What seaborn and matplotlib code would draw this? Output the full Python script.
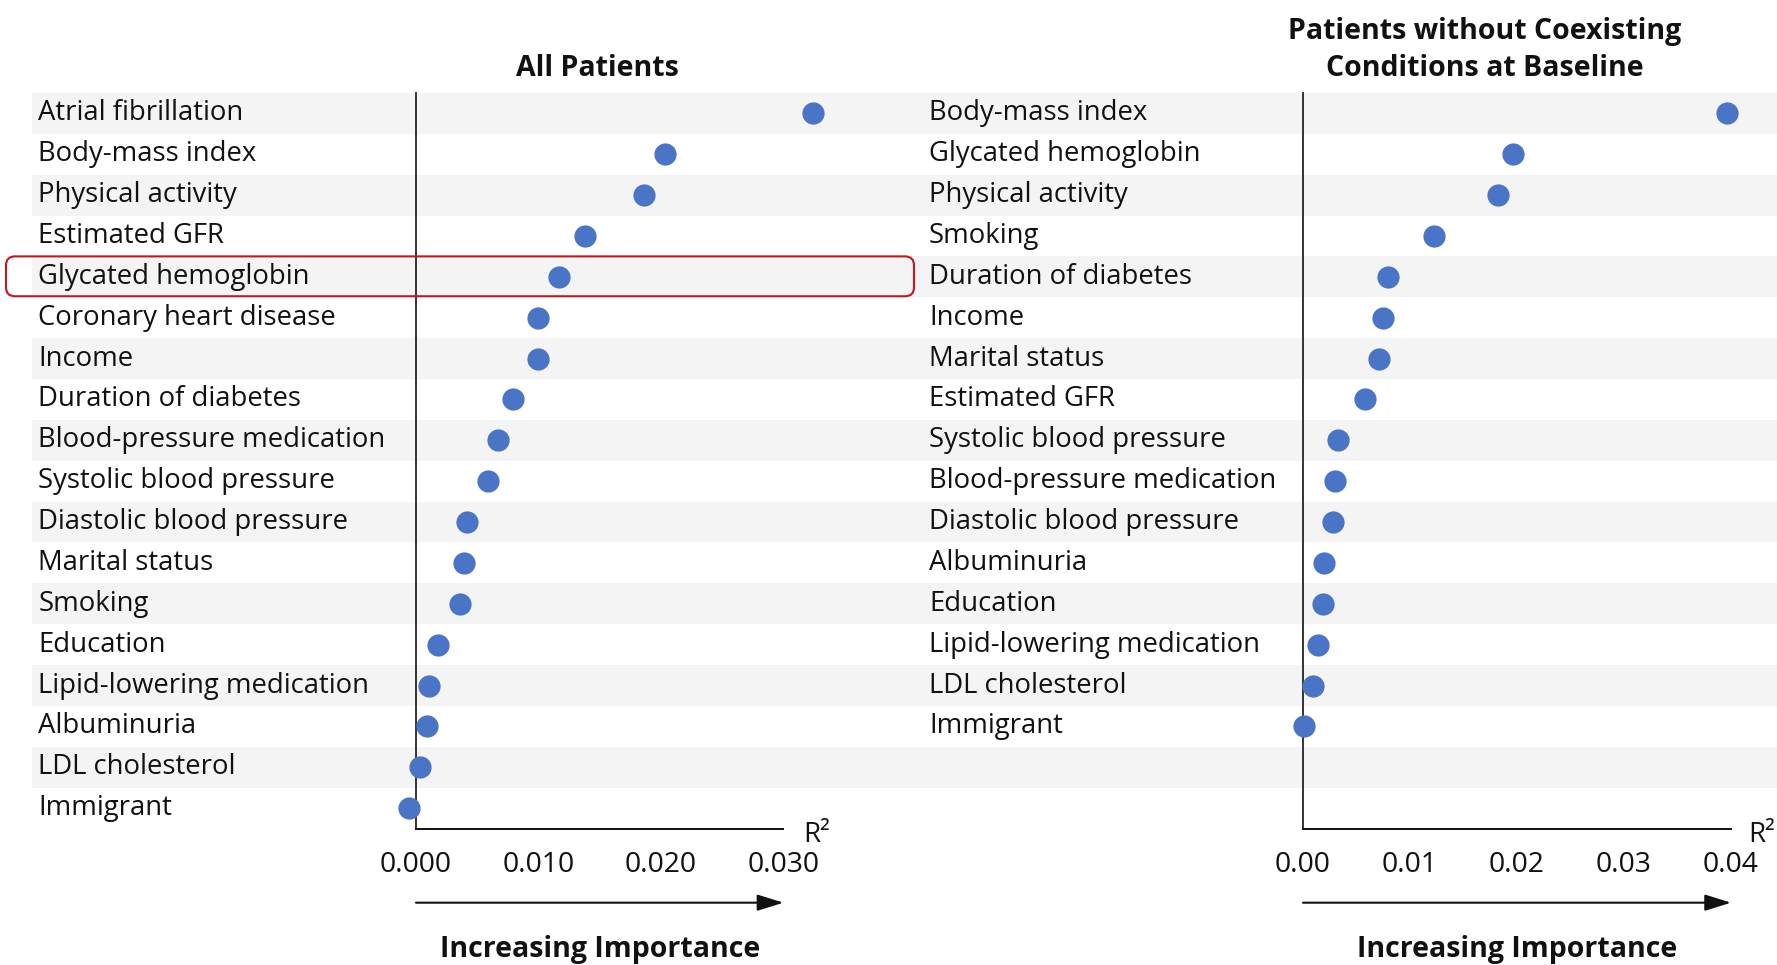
import matplotlib
matplotlib.use("Agg")
import matplotlib.pyplot as plt
import matplotlib.transforms as mtransforms
from matplotlib.patches import FancyBboxPatch
import pandas as pd
import seaborn as sns

# ---- data -------------------------------------------------------------
all_factors = [
    "Atrial fibrillation", "Body-mass index", "Physical activity",
    "Estimated GFR", "Glycated hemoglobin", "Coronary heart disease",
    "Income", "Duration of diabetes", "Blood-pressure medication",
    "Systolic blood pressure", "Diastolic blood pressure", "Marital status",
    "Smoking", "Education", "Lipid-lowering medication", "Albuminuria",
    "LDL cholesterol", "Immigrant",
]
all_r2 = [
    0.0324, 0.0203, 0.0186, 0.0138, 0.0117, 0.0100, 0.0100, 0.0079, 0.0067,
    0.0059, 0.0042, 0.0039, 0.0036, 0.0018, 0.0011, 0.0009, 0.0003, -0.0006,
]

healthy_factors = [
    "Body-mass index", "Glycated hemoglobin", "Physical activity", "Smoking",
    "Duration of diabetes", "Income", "Marital status", "Estimated GFR",
    "Systolic blood pressure", "Blood-pressure medication",
    "Diastolic blood pressure", "Albuminuria", "Education",
    "Lipid-lowering medication", "LDL cholesterol", "Immigrant",
]
healthy_r2 = [
    0.0396, 0.0196, 0.0182, 0.0122, 0.0079, 0.0075, 0.0071, 0.0058, 0.0033,
    0.0030, 0.0028, 0.0020, 0.0019, 0.0014, 0.0009, 0.0001,
]

left_ticks = [0.0, 0.01, 0.02, 0.03]
left_ticklabels = ["0.000", "0.010", "0.020", "0.030"]
right_ticks = [0.0, 0.01, 0.02, 0.03, 0.04]
right_ticklabels = ["0.00", "0.01", "0.02", "0.03", "0.04"]

left_title = "All Patients"
right_title = "Patients without Coexisting\nConditions at Baseline"
axis_caption = "Increasing Importance"
axis_unit = "R\u00b2"
highlight = "Glycated hemoglobin"

# ---- style ------------------------------------------------------------
sns.set_style("white")
plt.rcParams["font.family"] = ["Open Sans", "DejaVu Sans"]

DOT = "#4a74c6"
STRIPE = "#f4f4f4"
INK = "#111111"
AXLINE = "#333333"
RED = "#c4161c"

W, H = 1777, 965
fig = plt.figure(figsize=(W / 100, H / 100), dpi=100)
fig.patch.set_facecolor("white")


def rect(x0, y0, x1, y1):
    return [x0 / W, 1 - y1 / H, (x1 - x0) / W, (y1 - y0) / H]


n_rows = len(all_factors)
ax1 = fig.add_axes(rect(391.5, 92.9, 832.4, 828.6))
ax2 = fig.add_axes(rect(1281.6, 92.9, 1773.8, 828.6))

panels = [
    (ax1, all_factors, all_r2, (-0.002, 0.034), left_ticks, left_ticklabels,
     left_title, 0.468, 416 - 38.5),
    (ax2, healthy_factors, healthy_r2, (-0.002, 0.044), right_ticks,
     right_ticklabels, right_title, 0.413, 1303 - 929),
]

for ax, names, vals, xlim, ticks, ticklabels, title, title_x, label_px in panels:
    df = pd.DataFrame({"factor": names, "r2": vals})
    sns.stripplot(data=df, x="r2", y="factor", ax=ax, jitter=False,
                  size=16, color=DOT, linewidth=0, orient="h", zorder=4,
                  clip_on=False)
    ax.set_facecolor("none")
    ax.set_xlim(*xlim)
    ax.set_ylim(n_rows - 0.5, -0.5)
    ax.set_xlabel("")
    ax.set_ylabel("")
    ax.grid(False)

    for side in ("top", "right"):
        ax.spines[side].set_visible(False)
    ax.spines["left"].set_position(("data", 0))
    ax.spines["left"].set_color(AXLINE)
    ax.spines["left"].set_linewidth(1.4)
    ax.spines["bottom"].set_bounds(ticks[0], ticks[-1])
    ax.spines["bottom"].set_color(INK)
    ax.spines["bottom"].set_linewidth(1.4)

    ax.set_xticks(ticks)
    ax.set_xticklabels(ticklabels)
    ax.tick_params(axis="x", direction="out", length=9.4, width=1.2,
                   color=INK, pad=7, labelsize=20.3, labelcolor=INK)
    ax.tick_params(axis="y", length=0, pad=label_px * 0.72, labelsize=19.8,
                   labelcolor=INK)
    for lbl in ax.get_yticklabels():
        lbl.set_horizontalalignment("left")
        lbl.set_verticalalignment("center")

    xt = ax.get_xaxis_transform()
    # direction arrow under the axis
    ax.annotate("", xy=(ticks[-1], -0.1007), xytext=(ticks[0], -0.1007),
                xycoords=xt, textcoords=xt,
                arrowprops=dict(arrowstyle="-|>,head_length=0.8,head_width=0.25",
                                mutation_scale=20, lw=1.5, color=INK,
                                shrinkA=0, shrinkB=0))
    ax.text((ticks[0] + ticks[-1]) / 2, -0.1741, axis_caption, transform=xt,
            ha="center", va="baseline", fontsize=20.5, fontweight="bold",
            color=INK)
    step = ticks[1] - ticks[0]
    ax.text(ticks[-1] + step * 0.165, -0.0179, axis_unit, transform=xt,
            ha="left", va="baseline", fontsize=20, color=INK)
    ax.text(title_x, 1.023, title, transform=ax.transAxes, ha="center",
            va="baseline", fontsize=20.5, fontweight="bold", color=INK,
            linespacing=1.36)

# alternating row bands across both panels
x_lo = (32 - 391.5) / 440.9
x_hi = (1777 - 391.5) / 440.9
for i in range(0, n_rows, 2):
    ax1.axhspan(i - 0.5, i + 0.5, xmin=x_lo, xmax=x_hi, color=STRIPE,
                zorder=0, clip_on=False, linewidth=0)

# rounded outline around the highlighted factor row
row = all_factors.index(highlight)
fig.canvas.draw()
y_top = ax1.transData.transform((0, row - 0.5))[1]
y_bot = ax1.transData.transform((0, row + 0.5))[1]
box = FancyBboxPatch((6, y_bot + 1), 908, (y_top - y_bot) - 1,
                     boxstyle="round,pad=0,rounding_size=9",
                     transform=mtransforms.IdentityTransform(),
                     facecolor="none", edgecolor=RED, linewidth=1.5,
                     zorder=10)
fig.add_artist(box)

fig.savefig("out.png", dpi=100, facecolor="white")
